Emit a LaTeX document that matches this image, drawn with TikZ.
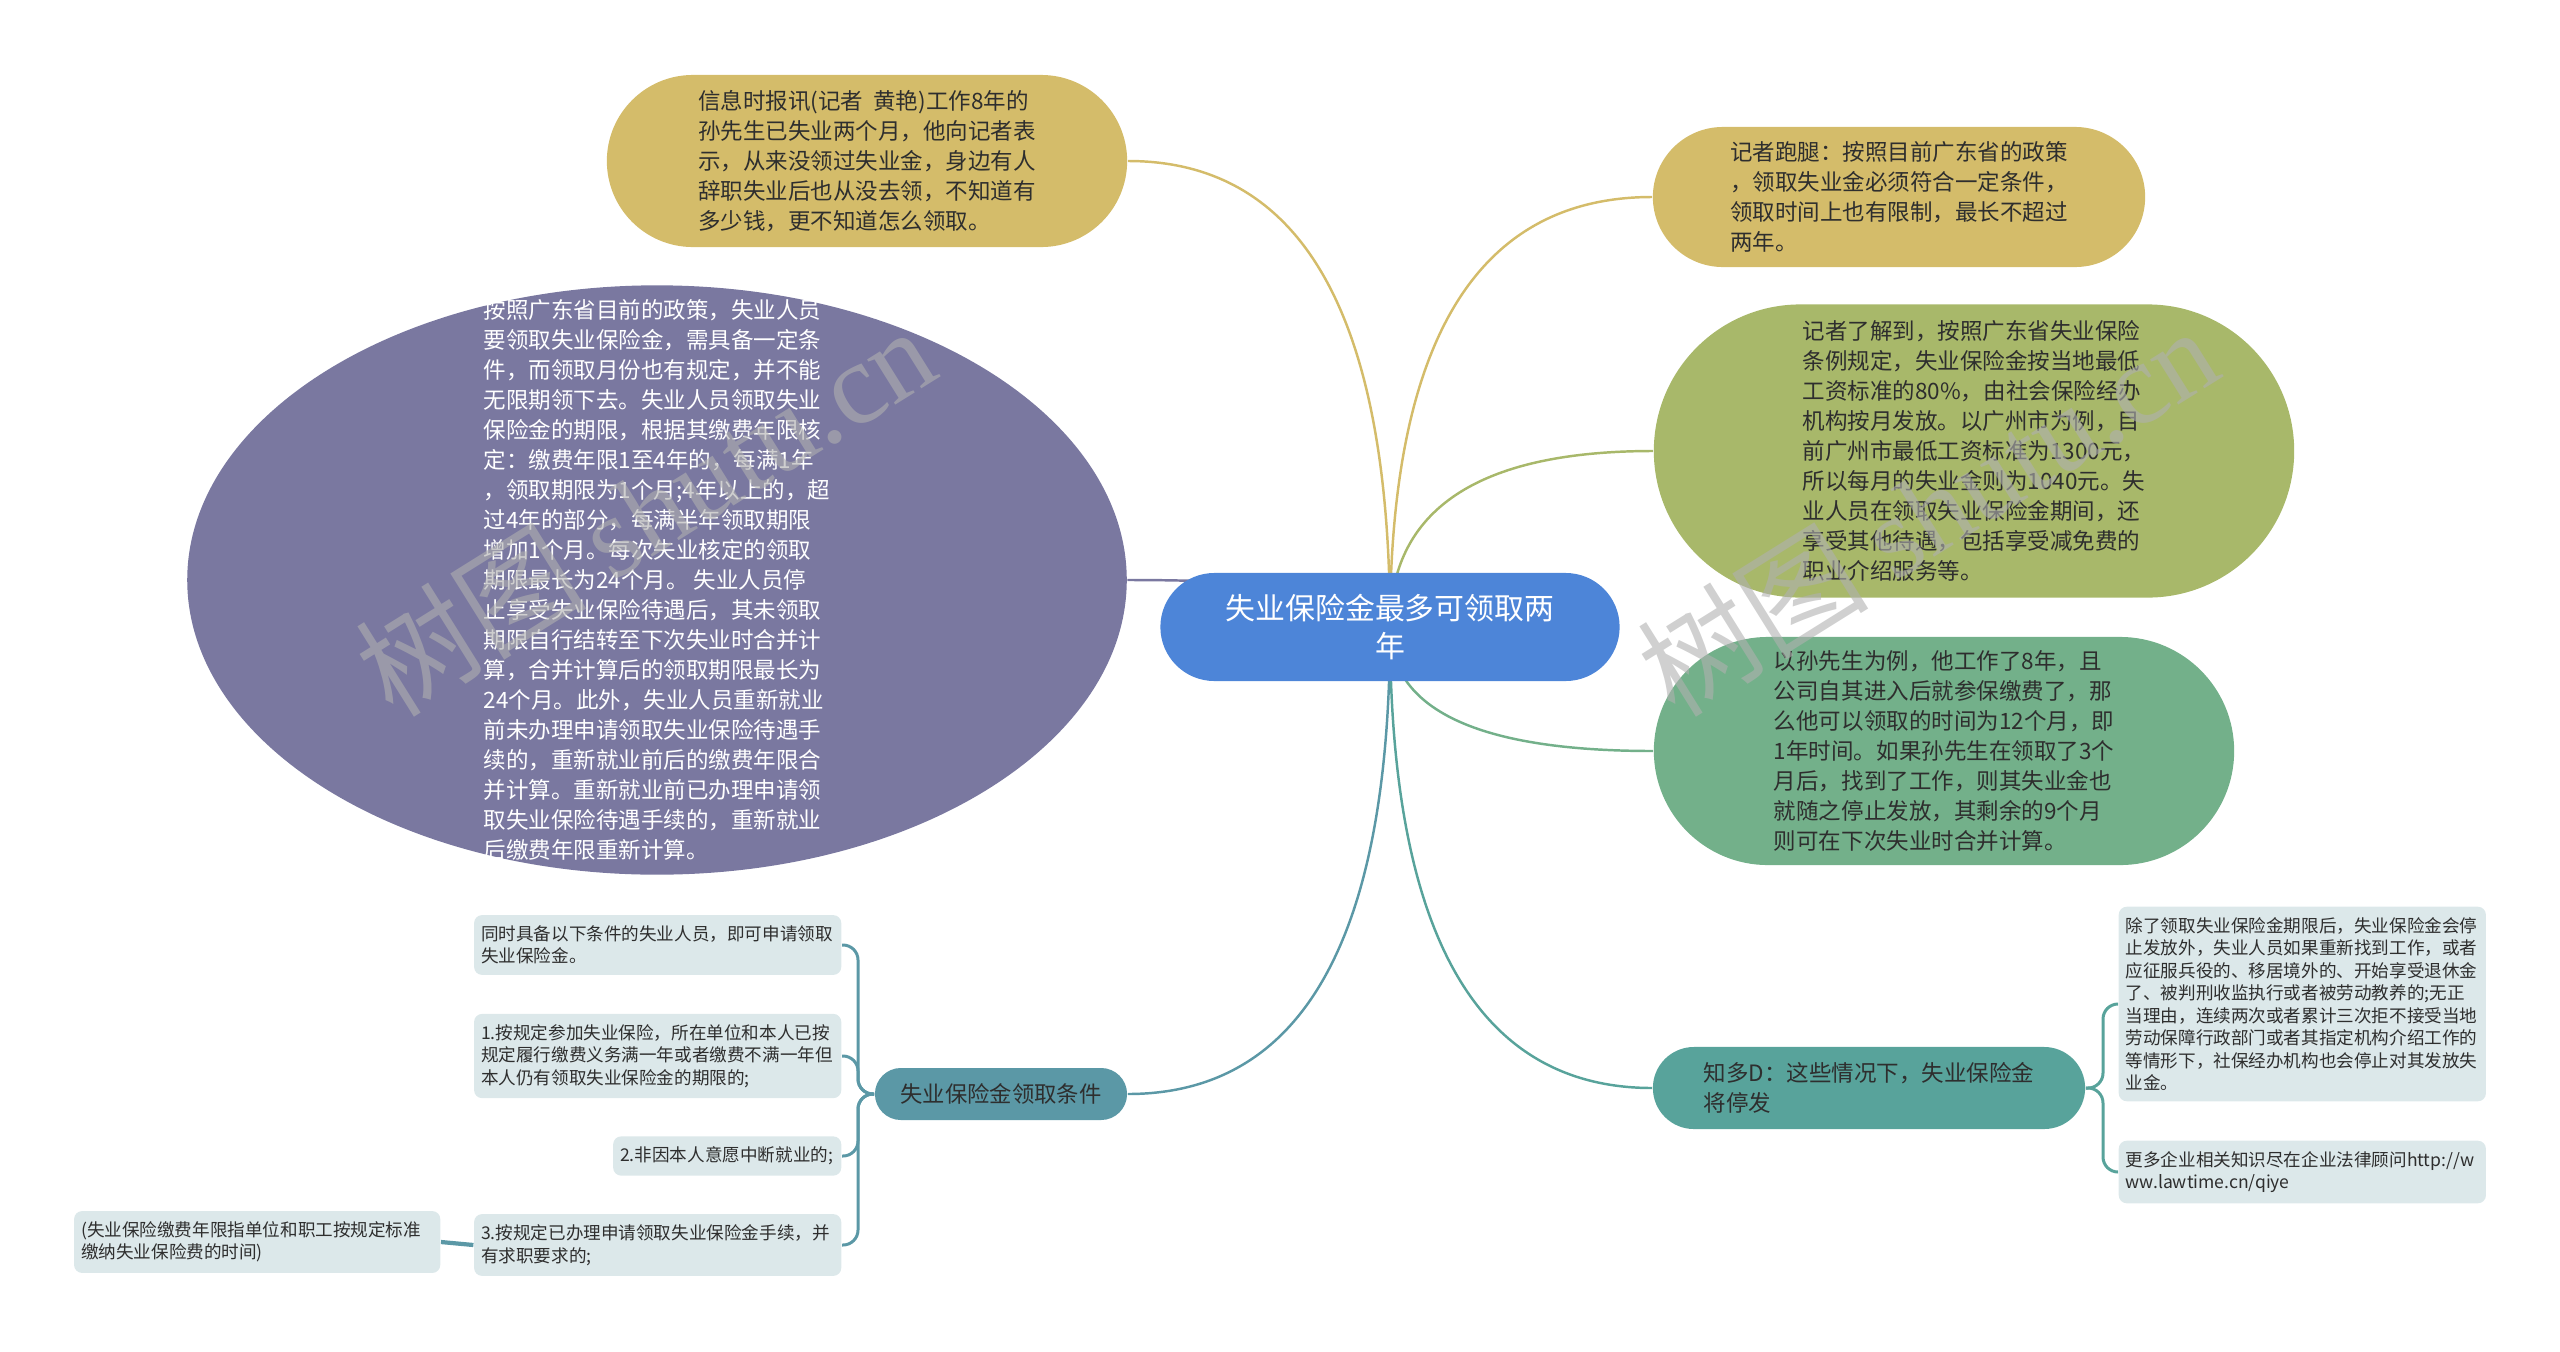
\documentclass[tikz,border=0pt]{standalone}
\usepackage{fontspec}
\setmainfont{Noto Sans CJK SC}
\newfontfamily\wmfont{Liberation Serif}
\usepackage{xcolor}
\usetikzlibrary{positioning,calc}
\usetikzlibrary{shapes.geometric,shapes.misc}
\definecolor{rootc}{HTML}{4D85D8}
\definecolor{goldc}{HTML}{D4BC6A}
\definecolor{purplec}{HTML}{7A78A0}
\definecolor{olivec}{HTML}{A8B86A}
\definecolor{greenc}{HTML}{73B08A}
\definecolor{tealc}{HTML}{5B98A6}
\definecolor{zdc}{HTML}{58A39B}
\definecolor{leafc}{HTML}{DCE8EA}
\definecolor{inkc}{HTML}{2E2E2E}
\definecolor{stampc}{HTML}{B0B0B0}
\pgfdeclarelayer{back}
\pgfsetlayers{back,main}
\tikzstyle{topic} = [rounded rectangle,inner sep=0pt,align=left,text=inkc,font=\fontsize{6.4}{8.54}\selectfont]
\tikzstyle{leaf} = [rectangle,rounded corners=0.08cm,fill=leafc,inner xsep=0.07cm,inner ysep=0.105cm,align=left,text=inkc,font=\fontsize{5}{6.4}\selectfont]
\tikzstyle{link} = [line width=0.7pt]
\tikzstyle{brace} = [line width=0.85pt,rounded corners=0.15cm]
\tikzstyle{stamp} = [text=stampc,opacity=0.6,font=\fontsize{33}{33}\selectfont]

\begin{document}
\begin{tikzpicture}[x=0.01cm,y=-0.01cm]
        \useasboundingbox (0,0) rectangle (2560,1351);
        % root
        \node[topic,fill=rootc,text=white,align=center,minimum width=4.59cm,minimum height=1.08cm,font=\fontsize{8.5}{10.8}\selectfont] (root) at (1390,627) {失业保险金最多可领取两\\年};
        % first level
        \node[topic,fill=goldc,minimum width=5.20cm,minimum height=1.72cm] (tl) at (867,161) {信息时报讯(记者~~黄艳)工作8年的\\孙先生已失业两个月，他向记者表\\示，从来没领过失业金，身边有人\\辞职失业后也从没去领，不知道有\\多少钱，更不知道怎么领取。};
        \node[topic,fill=goldc,minimum width=4.92cm,minimum height=1.40cm] (tr) at (1899,197) {记者跑腿：按照目前广东省的政策\\，领取失业金必须符合一定条件，\\领取时间上也有限制，最长不超过\\两年。};
        \node[topic,ellipse,fill=purplec,text=white,inner xsep=0pt,inner ysep=-0.8cm,minimum width=9.39cm,minimum height=5.89cm] (pp) at (657,580) {按照广东省目前的政策，失业人员\\要领取失业保险金，需具备一定条\\件，而领取月份也有规定，并不能\\无限期领下去。失业人员领取失业\\保险金的期限，根据其缴费年限核\\定：缴费年限1至4年的，每满1年\\，领取期限为1个月;4年以上的，超\\过4年的部分，每满半年领取期限\\增加1个月。每次失业核定的领取\\期限最长为24个月。 失业人员停\\止享受失业保险待遇后，其未领取\\期限自行结转至下次失业时合并计\\算，合并计算后的领取期限最长为\\24个月。此外，失业人员重新就业\\前未办理申请领取失业保险待遇手\\续的，重新就业前后的缴费年限合\\并计算。重新就业前已办理申请领\\取失业保险待遇手续的，重新就业\\后缴费年限重新计算。};
        \node[topic,fill=olivec,minimum width=6.40cm,minimum height=2.93cm] (ol) at (1974,451) {记者了解到，按照广东省失业保险\\条例规定，失业保险金按当地最低\\工资标准的80\%，由社会保险经办\\机构按月发放。以广州市为例，目\\前广州市最低工资标准为1300元，\\所以每月的失业金则为1040元。失\\业人员在领取失业保险金期间，还\\享受其他待遇，包括享受减免费的\\职业介绍服务等。};
        \node[topic,fill=greenc,minimum width=5.80cm,minimum height=2.28cm] (gr) at (1944,751) {以孙先生为例，他工作了8年，且\\公司自其进入后就参保缴费了，那\\么他可以领取的时间为12个月，即\\1年时间。如果孙先生在领取了3个\\月后，找到了工作，则其失业金也\\就随之停止发放，其剩余的9个月\\则可在下次失业时合并计算。};
        \node[topic,fill=tealc,minimum width=2.52cm,minimum height=0.52cm,font=\fontsize{6.35}{8.5}\selectfont] (cond) at (1001,1094) {失业保险金领取条件};
        \node[topic,fill=zdc,minimum width=4.32cm,minimum height=0.82cm] (zd) at (1869,1088) {知多D：这些情况下，失业保险金\\将停发};
        % leaves, left
        \node[leaf,anchor=east,text width=3.53cm] (la) at (842,945) {同时具备以下条件的失业人员，即可申请领取\\失业保险金。};
        \node[leaf,anchor=east,text width=3.53cm] (lb) at (842,1056) {1.按规定参加失业保险，所在单位和本人已按\\规定履行缴费义务满一年或者缴费不满一年但\\本人仍有领取失业保险金的期限的;};
        \node[leaf,anchor=east,text width=2.14cm] (lc) at (842,1156) {2.非因本人意愿中断就业的;};
        \node[leaf,anchor=east,text width=3.53cm] (ld) at (842,1245) {3.按规定已办理申请领取失业保险金手续，并\\有求职要求的;};
        \node[leaf,anchor=east,text width=3.52cm] (le) at (441,1242) {(失业保险缴费年限指单位和职工按规定标准\\缴纳失业保险费的时间)};
        % leaves, right
        \node[leaf,anchor=west,text width=3.53cm] (ra) at (2118,1004) {除了领取失业保险金期限后，失业保险金会停\\止发放外，失业人员如果重新找到工作，或者\\应征服兵役的、移居境外的、开始享受退休金\\了、被判刑收监执行或者被劳动教养的;无正\\当理由，连续两次或者累计三次拒不接受当地\\劳动保障行政部门或者其指定机构介绍工作的\\等情形下，社保经办机构也会停止对其发放失\\业金。};
        \node[leaf,anchor=west,text width=3.53cm] (rb) at (2118,1172) {更多企业相关知识尽在企业法律顾问http://w\\ww.lawtime.cn/qiye};
        % connectors
        \begin{pgfonlayer}{back}
        \foreach \dst/\col in {tl.east/goldc,tr.west/goldc,pp.east/purplec,ol.west/olivec,gr.west/greenc,cond.east/tealc,zd.west/zdc}
            \draw[link,\col] (root.center) .. controls ($(root.center)!0.667!(root.center |- \dst)$) and ($(\dst)!0.667!(root.center |- \dst)$) .. (\dst);
        \coordinate (lspine) at (858,1094);
        \foreach \dst in {la,lb,lc,ld}
            \draw[brace,tealc] (cond.west) -- (lspine) -- (lspine |- \dst.east) -- (\dst.east);
        \draw[link,tealc,line width=1.2pt] (ld.west) -- (le.east);
        \coordinate (rspine) at (2103,1088);
        \foreach \dst in {ra,rb}
            \draw[brace,zdc] (zd.east) -- (rspine) -- (rspine |- \dst.west) -- (\dst.west);
        \end{pgfonlayer}
        % watermarks
        \node[stamp,rotate=32] (wm1) at (645,510) {树图 {\wmfont shutu.cn}};
        \node[stamp,rotate=32] (wm2) at (1927,510) {树图 {\wmfont shutu.cn}};
\end{tikzpicture}
\end{document}
